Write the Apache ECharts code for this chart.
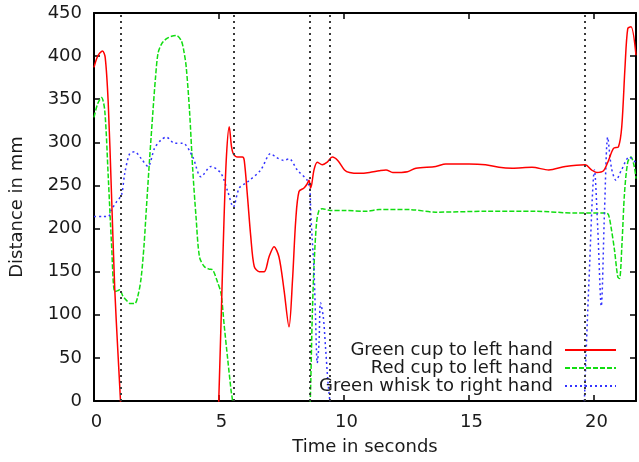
<!DOCTYPE html>
<html>
<head>
<meta charset="utf-8">
<script src="https://cdn.jsdelivr.net/npm/echarts@6/dist/echarts.min.js"></script>
<style>
  html, body { margin: 0; padding: 0; background: #fff; }
  #chart { width: 639px; height: 462px; }
</style>
</head>
<body>
<div id="chart"></div>
<script>
// Time (s) and distance (mm) samples for each object/hand pair
const greenCupTime = [0, 0.15, 0.34, 0.45, 0.57, 0.70, 0.83, 0.95, 1.06, 1.12, 4.94, 4.99, 5.1, 5.2, 5.3, 5.41, 5.5, 5.57, 5.74, 5.94, 6.01, 6.14, 6.27, 6.41, 6.61, 6.81, 7.0, 7.2, 7.4, 7.6, 7.8, 7.94, 8.07, 8.2, 8.4, 8.53, 8.6, 8.67, 8.8, 8.93, 9.13, 9.33, 9.53, 9.75, 10.02, 10.22, 10.62, 11.02, 11.41, 11.68, 11.95, 12.54, 12.88, 13.67, 14.07, 15.0, 15.66, 16.2, 16.73, 17.52, 18.19, 18.85, 19.65, 19.9, 20.11, 20.38, 20.58, 20.78, 20.98, 21.11, 21.24, 21.35, 21.48, 21.68];
const greenCupDist = [387, 400, 406, 398, 345, 240, 130, 60, 0, -40, -40, 0, 110, 210, 285, 318, 295, 287, 283, 283, 279, 237, 191, 156, 150, 150, 167, 179, 167, 129, 86, 140, 210, 243, 247, 252, 256, 247, 268, 277, 274, 277, 283, 279, 268, 265, 264, 265, 267, 268, 265, 266, 270, 272, 275, 275, 274, 271, 270, 271, 268, 272, 274, 268, 265, 267, 279, 293, 295, 318, 387, 432, 434, 401];

const redCupTime = [0, 0.15, 0.3, 0.43, 0.57, 0.70, 0.83, 0.95, 1.03, 1.15, 1.29, 1.45, 1.63, 1.78, 1.89, 2.0, 2.09, 2.22, 2.36, 2.46, 2.56, 2.7, 2.89, 3.1, 3.29, 3.49, 3.6, 3.69, 3.82, 3.95, 4.08, 4.22, 4.41, 4.6, 4.75, 4.95, 5.08, 5.21, 5.35, 5.48, 5.54, 5.6, 8.6, 8.65, 8.67, 8.73, 8.8, 8.9, 9.0, 9.13, 9.46, 10.0, 10.88, 11.41, 12.61, 13.67, 15.66, 17.66, 19.25, 20.49, 20.58, 20.68, 20.82, 20.95, 21.02, 21.12, 21.22, 21.35, 21.48, 21.61, 21.68];
const redCupDist = [329, 345, 352, 337, 260, 183, 127, 128, 129, 122, 117, 113, 113, 125, 144, 180, 221, 279, 337, 375, 403, 414, 420, 423, 424, 418, 405, 387, 337, 268, 214, 167, 156, 153, 152, 137, 125, 87, 48, 13, 0, -40, -40, 0, 21, 98, 156, 206, 221, 223, 221, 221, 220, 222, 222, 219, 220, 220, 218, 218, 216, 202, 175, 144, 142, 183, 241, 277, 283, 272, 258];

const whiskTime = [0, 0.35, 0.57, 0.70, 0.9, 1.1, 1.23, 1.43, 1.63, 1.89, 2.16, 2.42, 2.69, 2.89, 3.22, 3.55, 3.95, 4.28, 4.68, 5.08, 5.35, 5.57, 5.81, 6.14, 6.67, 7.07, 7.27, 7.6, 7.8, 8.13, 8.53, 8.6, 8.64, 8.67, 8.73, 8.8, 8.86, 8.93, 9.0, 9.06, 9.17, 9.26, 9.35, 9.43, 9.5, 19.58, 19.62, 19.8, 20.02, 20.15, 20.29, 20.42, 20.55, 20.7, 20.88, 21.1, 21.41, 21.68];
const whiskDist = [214, 214, 214, 222, 231, 239, 264, 287, 289, 281, 272, 293, 303, 306, 299, 299, 283, 260, 272, 264, 243, 225, 247, 254, 268, 287, 283, 279, 281, 268, 256, 250, 245, 218, 187, 152, 98, 44, 67, 114, 98, 63, 25, 0, -40, -40, 4, 140, 268, 200, 110, 220, 306, 270, 256, 268, 283, 276];

// Event times marked with vertical dotted lines
const eventTimes = [1.06, 5.57, 8.63, 9.45, 19.65];

// Axis ticks
const xTicks = [0, 5, 10, 15, 20];
const yTicks = [0, 50, 100, 150, 200, 250, 300, 350, 400, 450];

const seriesNames = ['Green cup to left hand', 'Red cup to left hand', 'Green whisk to right hand'];

const zip = (ts, vs) => ts.map((t, i) => [t, vs[i]]);

const FONT = 'DejaVu Sans';
const FS = 18;
const TEXT = '#1a1a1a';

const chart = echarts.init(document.getElementById('chart'), null, { renderer: 'canvas' });

const frameAxis = {
  axisLine: { show: true, onZero: false, lineStyle: { color: '#000', width: 2 } },
  axisTick: { show: true, inside: true, length: 6, lineStyle: { color: '#000', width: 1.5 } },
  splitLine: { show: false }
};

const legendAt = (name, top) => ({
  data: [name],
  right: 22,
  top: top,
  padding: 0,
  orient: 'vertical',
  align: 'right',
  itemWidth: 51,
  itemHeight: 10,
  selectedMode: false,
  itemStyle: { opacity: 0 },
  textStyle: { fontFamily: FONT, fontSize: FS, color: TEXT, padding: [0, 7, 0, 0] }
});

chart.setOption({
  animation: false,
  backgroundColor: '#fff',
  grid: { left: 93, right: 3, top: 13, bottom: 61, containLabel: false },
  legend: [
    legendAt(seriesNames[0], 341),
    legendAt(seriesNames[1], 359),
    legendAt(seriesNames[2], 377)
  ],
  xAxis: [
    Object.assign({}, frameAxis, {
      type: 'value', min: 0, max: 21.68, position: 'bottom',
      name: 'Time in seconds', nameLocation: 'middle', nameGap: 37,
      nameTextStyle: { fontFamily: FONT, fontSize: FS, color: TEXT },
      axisTick: Object.assign({}, frameAxis.axisTick, { customValues: xTicks }),
      axisLabel: { customValues: xTicks, fontFamily: FONT, fontSize: FS, color: TEXT, margin: 12, padding: [0, 0, 0, 5] }
    }),
    Object.assign({}, frameAxis, {
      type: 'value', min: 0, max: 21.68, position: 'top',
      axisTick: Object.assign({}, frameAxis.axisTick, { customValues: xTicks }),
      axisLabel: { show: false }
    })
  ],
  yAxis: [
    Object.assign({}, frameAxis, {
      type: 'value', min: 0, max: 450, interval: 50, position: 'left',
      name: 'Distance in mm', nameLocation: 'middle', nameGap: 68, nameRotate: 90,
      nameTextStyle: { fontFamily: FONT, fontSize: FS, color: TEXT },
      axisTick: Object.assign({}, frameAxis.axisTick, { customValues: yTicks }),
      axisLabel: { customValues: yTicks, fontFamily: FONT, fontSize: FS, color: TEXT, margin: 12 }
    }),
    Object.assign({}, frameAxis, {
      type: 'value', min: 0, max: 450, interval: 50, position: 'right',
      axisTick: Object.assign({}, frameAxis.axisTick, { customValues: yTicks }),
      axisLabel: { show: false }
    })
  ],
  series: [
    {
      name: seriesNames[0], type: 'line', data: zip(greenCupTime, greenCupDist),
      showSymbol: false, symbol: 'none', clip: true, z: 3, smooth: 0.3,
      lineStyle: { color: '#ff0000', width: 1.5, type: 'solid' },
      itemStyle: { color: '#ff0000' },
      markLine: {
        silent: true, symbol: 'none', label: { show: false },
        lineStyle: { color: '#3a3a3a', width: 2, type: [2, 4] },
        emphasis: { disabled: true },
        data: eventTimes.map(t => ({ xAxis: t }))
      }
    },
    {
      name: seriesNames[1], type: 'line', data: zip(redCupTime, redCupDist),
      showSymbol: false, symbol: 'none', clip: true, z: 2, smooth: 0.3,
      lineStyle: { color: '#11dd11', width: 1.5, type: [5, 2] },
      itemStyle: { color: '#11dd11' }
    },
    {
      name: seriesNames[2], type: 'line', data: zip(whiskTime, whiskDist),
      showSymbol: false, symbol: 'none', clip: true, z: 2, smooth: 0.3,
      lineStyle: { color: '#3333ff', width: 1.5, type: [2, 3] },
      itemStyle: { color: '#3333ff' }
    }
  ]
});
</script>
</body>
</html>
